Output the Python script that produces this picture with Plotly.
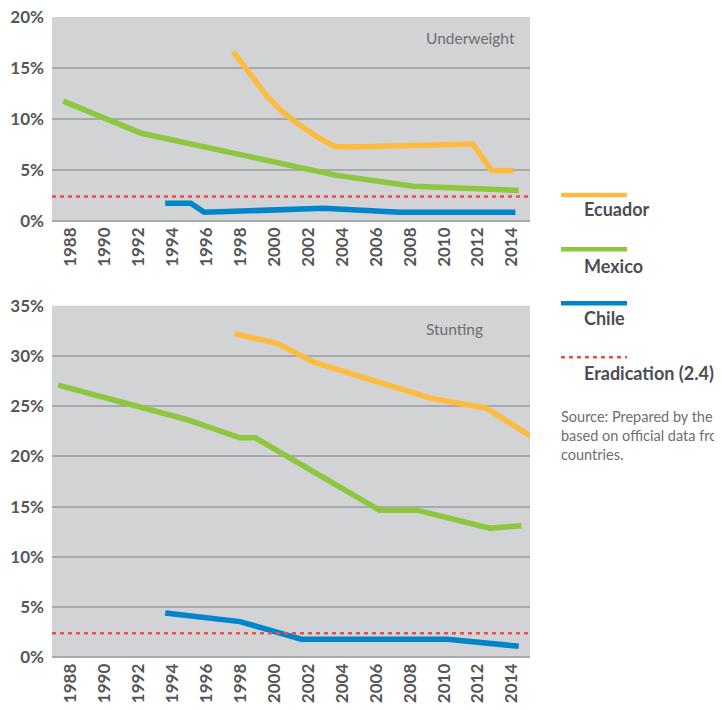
import plotly.graph_objects as go

# page body has an 8px margin: the figure is drawn at (8, 8) inside the 722x710 window
OFF = 8
W, H = 722 - OFF, 710 - OFF

# ---------------- data ----------------
YEAR_TICKS = list(range(1988, 2015, 2))
ERADICATION = 2.4

# Underweight (%)
UW_ECU_X = [1997.6, 1998.6, 1999.6, 2000.5, 2001.5, 2002.5, 2003.6, 2004.5, 2008.0, 2011.7, 2012.8, 2014.1]
UW_ECU_Y = [16.6, 14.3, 12.2, 10.7, 9.4, 8.3, 7.3, 7.25, 7.45, 7.55, 4.95, 4.95]
UW_MEX_X = [1987.6, 1992.2, 2003.6, 2008.2, 2014.4]
UW_MEX_Y = [11.75, 8.6, 4.5, 3.4, 3.0]
UW_CHL_X = [1993.6, 1995.1, 1995.9, 2002.9, 2007.4, 2014.2]
UW_CHL_Y = [1.75, 1.75, 0.85, 1.25, 0.85, 0.85]

# Stunting (%)
ST_ECU_X = [1997.7, 2000.2, 2002.3, 2009.2, 2012.5, 2015.1]
ST_ECU_Y = [32.2, 31.25, 29.4, 25.8, 24.8, 22.0]
ST_MEX_X = [1987.3, 1994.8, 1998.0, 1998.9, 2006.2, 2008.4, 2012.7, 2014.55]
ST_MEX_Y = [27.1, 23.7, 21.85, 21.85, 14.65, 14.65, 12.85, 13.1]
ST_CHL_X = [1993.6, 1998.0, 2001.6, 2010.2, 2014.4]
ST_CHL_Y = [4.4, 3.55, 1.8, 1.8, 1.1]

SERIES = ["Ecuador", "Mexico", "Chile"]
COLORS = {"Ecuador": "#FDBB40", "Mexico": "#8DC63F", "Chile": "#0085CA"}
RED = "#EF4B4B"
PANEL_TITLES = ["Underweight", "Stunting"]
LEGEND_LABELS = ["Ecuador", "Mexico", "Chile", "Eradication (2.4)"]
SOURCE_LINES = ["Source: Prepared by the", "based on official data from", "countries."]

# ---------------- layout helpers (window pixels -> paper) ----------------
def px(x):
    return (x - OFF) / W

def py(y):
    return 1 - (y - OFF) / H

FONT = "Lato"
TEXT = "#555658"

fig = go.Figure()

panels = [
    ("x", "y", [(UW_ECU_X, UW_ECU_Y, "Ecuador"), (UW_MEX_X, UW_MEX_Y, "Mexico"), (UW_CHL_X, UW_CHL_Y, "Chile")]),
    ("x2", "y2", [(ST_ECU_X, ST_ECU_Y, "Ecuador"), (ST_MEX_X, ST_MEX_Y, "Mexico"), (ST_CHL_X, ST_CHL_Y, "Chile")]),
]
for xa, ya, lst in panels:
    for xs, ys, name in lst:
        fig.add_trace(go.Scatter(x=xs, y=ys, mode="lines", name=name, xaxis=xa, yaxis=ya,
                                 line=dict(color=COLORS[name], width=5.5), showlegend=False))

xdom = [px(52), px(530)]
xcommon = dict(range=[1986.94, 2015.06], tickmode="array", tickvals=YEAR_TICKS,
               ticktext=[str(v) for v in YEAR_TICKS], tickangle=-90, showgrid=False,
               zeroline=False, showline=False, ticks="", automargin=False,
               tickfont=dict(family=FONT, size=17, color=TEXT, weight="bold"),
               domain=xdom, fixedrange=True, ticklabelstandoff=2, ticklabeloverflow="allow")
ycommon = dict(showgrid=True, gridcolor="#A7A9AC", gridwidth=1.5, zeroline=True,
               zerolinecolor="#A7A9AC", zerolinewidth=1.5, ticksuffix="%", dtick=5,
               ticks="", tickfont=dict(family=FONT, size=17, color=TEXT, weight="bold"),
               showline=False, fixedrange=True, ticklabelstandoff=7, automargin=False,
               ticklabeloverflow="allow")

fig.update_layout(
    width=W, height=H, margin=dict(l=0, r=0, t=0, b=0, autoexpand=False),
    paper_bgcolor="white", plot_bgcolor="#D1D3D4",
    xaxis=dict(**xcommon, anchor="y"),
    yaxis=dict(**ycommon, range=[0, 20], domain=[py(221), py(17)], anchor="x"),
    xaxis2=dict(**xcommon, anchor="y2"),
    yaxis2=dict(**ycommon, range=[0, 35], domain=[py(657.3), py(305.7)], anchor="x2"),
    showlegend=False,
)

# eradication lines
for xr, yr in [("x domain", "y"), ("x2 domain", "y2")]:
    fig.add_shape(type="line", xref=xr, yref=yr, x0=0, x1=1, y0=ERADICATION, y1=ERADICATION,
                  line=dict(color=RED, width=2.5, dash="4px,4px"), layer="above")

# panel titles
fig.add_annotation(x=px(517), y=py(38), xref="paper", yref="paper", text=PANEL_TITLES[0],
                   showarrow=False, xanchor="right", yanchor="middle",
                   font=dict(family=FONT, size=15.5, color="#6D6E71"))
fig.add_annotation(x=px(485), y=py(329), xref="paper", yref="paper", text=PANEL_TITLES[1],
                   showarrow=False, xanchor="right", yanchor="middle",
                   font=dict(family=FONT, size=15.5, color="#6D6E71"))

# legend
leg_line_y = [195, 249.3, 303.3, 357.3]
leg_text_y = [209.3, 265.7, 317.7, 373.3]
leg_colors = [COLORS["Ecuador"], COLORS["Mexico"], COLORS["Chile"], RED]
for i, lab in enumerate(LEGEND_LABELS):
    dash = "solid" if i < 3 else "4px,4px"
    fig.add_shape(type="line", xref="paper", yref="paper", x0=px(561), x1=px(627),
                  y0=py(leg_line_y[i]), y1=py(leg_line_y[i]),
                  line=dict(color=leg_colors[i], width=4.5 if i < 3 else 2.5, dash=dash))
    fig.add_annotation(x=px(582), y=py(leg_text_y[i]), xref="paper", yref="paper", text=lab,
                       showarrow=False, xanchor="left", yanchor="middle",
                       font=dict(family=FONT, size=18, color="#4D4D4F", weight="bold"))

fig.add_annotation(x=px(559), y=py(406), xref="paper", yref="paper",
                   text="<br>".join(SOURCE_LINES),
                   showarrow=False, xanchor="left", yanchor="top", align="left",
                   font=dict(family=FONT, size=14.5, color="#6D6E71"))

fig.write_html("out.html")
